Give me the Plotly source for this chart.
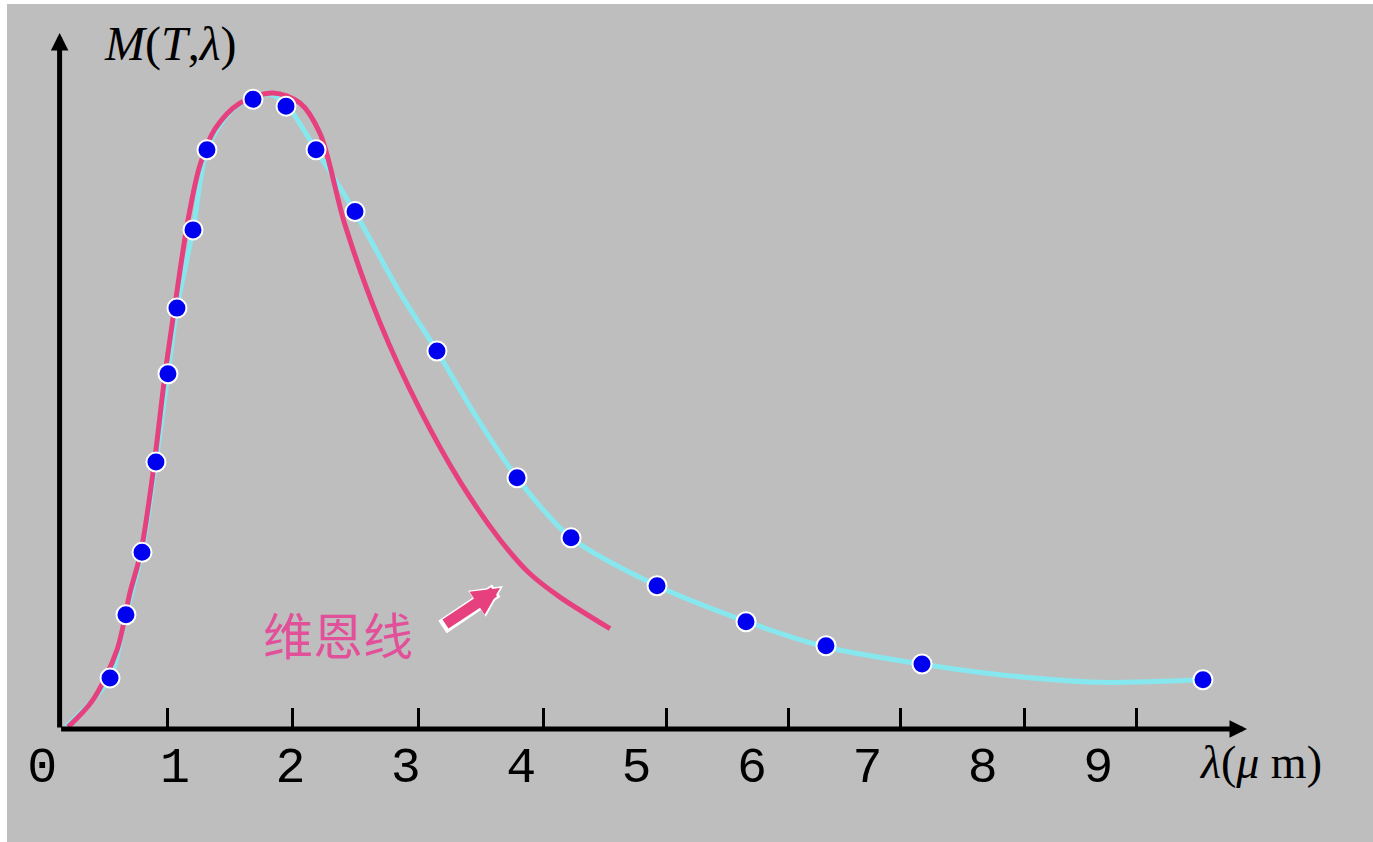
import plotly.graph_objects as go

# ---------------- data ----------------
# measured blue points  (lambda in um, M in relative units, peak ~ 100)
dot_x = [0.437, 0.575, 0.714, 0.835, 0.939, 1.017, 1.156, 1.277, 1.676, 1.962,
         2.222, 2.560, 3.270, 3.964, 4.432, 5.177, 5.948, 6.641, 7.473, 9.908]
dot_y = [8.1, 18.1, 28.0, 42.3, 56.3, 66.7, 79.1, 91.8, 99.8, 98.7,
         91.8, 82.0, 59.9, 39.8, 30.3, 22.7, 17.0, 13.2, 10.3, 7.8]

# cyan curve (Planck)
cyan_x = [0.055, 0.437, 0.575, 0.714, 0.835, 0.939, 1.017, 1.156, 1.277, 1.477,
          1.676, 1.823, 1.962, 2.222, 2.560, 2.950, 3.270, 3.600, 3.964, 4.432,
          5.177, 5.957, 6.641, 7.464, 8.149, 9.016, 9.900]
cyan_y = [0.3, 8.1, 18.1, 28.1, 42.3, 56.3, 66.7, 79.1, 91.8, 97.8,
          100.0, 100.6, 99.0, 91.8, 81.9, 69.1, 59.9, 49.8, 39.8, 30.3,
          22.7, 17.0, 13.0, 10.3, 8.6, 7.4, 7.8]

# pink curve (Wien)
wien_x = [0.073, 0.289, 0.497, 0.610, 0.705, 0.818, 0.913, 1.000, 1.113, 1.217,
          1.347, 1.563, 1.850, 2.083, 2.256, 2.473, 2.776, 3.123, 3.470, 3.816,
          4.076, 4.336, 4.770]
wien_y = [0.3, 4.6, 12.5, 21.6, 28.1, 41.8, 56.1, 67.2, 80.7, 89.4,
          95.1, 99.2, 100.8, 99.2, 94.4, 79.9, 64.4, 50.6, 39.2, 30.0,
          24.6, 20.9, 15.9]

tick_marks = [0.939, 2.014, 3.106, 4.189, 5.255, 6.312, 7.283, 8.357, 9.336]
label_pos = [-0.15, 1, 2, 3, 4, 5, 6, 7, 8, 9]
label_txt = ["0", "1", "2", "3", "4", "5", "6", "7", "8", "9"]

# ---------------- pixel <-> data mapping ----------------
W, H = 1373, 842
ML, MT = 7, 4
PX0, PXU = 59.6, 115.4
PY0, PYU = 729.0, 6.31
xr = [(ML - PX0) / PXU, (W - PX0) / PXU]
yr = [(PY0 - H) / PYU, (PY0 - MT) / PYU]
ph = H - MT
axis_pos = (H - PY0) / ph
label_axis_pos = (H - 731) / ph


def dx(px):
    return (px - PX0) / PXU


def dy(py):
    return (PY0 - py) / PYU


PINK = "#e6407f"
CYAN = "#86e8ee"
BLUE = "#0000f0"

fig = go.Figure()
fig.add_trace(go.Scatter(x=cyan_x, y=cyan_y, mode="lines",
                         line=dict(color=CYAN, width=5, shape="spline", smoothing=0.8),
                         hoverinfo="skip", showlegend=False))
fig.add_trace(go.Scatter(x=wien_x, y=wien_y, mode="lines",
                         line=dict(color=PINK, width=5, shape="spline", smoothing=0.9),
                         hoverinfo="skip", showlegend=False))
fig.add_trace(go.Scatter(x=dot_x, y=dot_y, mode="markers",
                         marker=dict(color=BLUE, size=19, line=dict(color="white", width=2)),
                         showlegend=False))
# dummy trace for the label axis
fig.add_trace(go.Scatter(x=[label_pos[0]], y=[0], xaxis="x2", mode="markers",
                         marker=dict(opacity=0), hoverinfo="skip", showlegend=False))

# axes with arrowheads
fig.add_annotation(x=dx(1247), y=0, ax=0, ay=0, xref="x", yref="y", axref="x", ayref="y",
                   text="", showarrow=True, arrowhead=2, arrowsize=0.7, arrowwidth=5,
                   arrowcolor="black")
fig.add_annotation(x=0, y=dy(33), ax=0, ay=0, xref="x", yref="y", axref="x", ayref="y",
                   text="", showarrow=True, arrowhead=2, arrowsize=0.7, arrowwidth=5,
                   arrowcolor="black")

# Wien arrow (white outline + pink)
fig.add_annotation(x=dx(503), y=dy(586), ax=dx(441), ay=dy(628), xref="x", yref="y",
                   axref="x", ayref="y", text="", showarrow=True, arrowhead=2,
                   arrowsize=0.42, arrowwidth=15, arrowcolor="white")
fig.add_annotation(x=dx(500), y=dy(588), ax=dx(444), ay=dy(625), xref="x", yref="y",
                   axref="x", ayref="y", text="", showarrow=True, arrowhead=2,
                   arrowsize=0.5, arrowwidth=11, arrowcolor=PINK)

fig.add_annotation(x=dx(338), y=dy(633), xref="x", yref="y",
                   text="维恩线", showarrow=False,
                   font=dict(family="Noto Sans CJK SC", size=50, color="#e2509a"))
fig.add_annotation(x=dx(170), y=dy(44), xref="x", yref="y",
                   text="<i>M</i>(<i>T</i>,<i>λ</i>)", showarrow=False,
                   font=dict(family="Liberation Serif", size=48, color="black"))
fig.add_annotation(x=dx(1260), y=dy(762), xref="x", yref="y",
                   text="<i>λ</i>(<i>μ</i> m)", showarrow=False,
                   font=dict(family="Liberation Serif", size=46, color="black"))

fig.update_layout(
    width=W, height=H,
    margin=dict(l=ML, r=0, t=MT, b=0, pad=0),
    paper_bgcolor="white", plot_bgcolor="#bebebe",
    xaxis=dict(range=xr, anchor="free", position=axis_pos, showgrid=False, zeroline=False,
               showline=False, ticks="inside", ticklen=21, tickwidth=3, tickcolor="black",
               tickvals=tick_marks, showticklabels=False, fixedrange=True),
    xaxis2=dict(range=xr, overlaying="x", anchor="free", position=label_axis_pos,
                side="bottom", showgrid=False, zeroline=False, showline=False, ticks="",
                tickvals=label_pos, ticktext=label_txt,
                tickfont=dict(family="Liberation Mono", size=50, color="black"),
                fixedrange=True),
    yaxis=dict(range=yr, visible=False, fixedrange=True),
    showlegend=False,
)

fig.write_html("out.html", config={"displayModeBar": False},
               post_script="document.body.style.margin='0';")
